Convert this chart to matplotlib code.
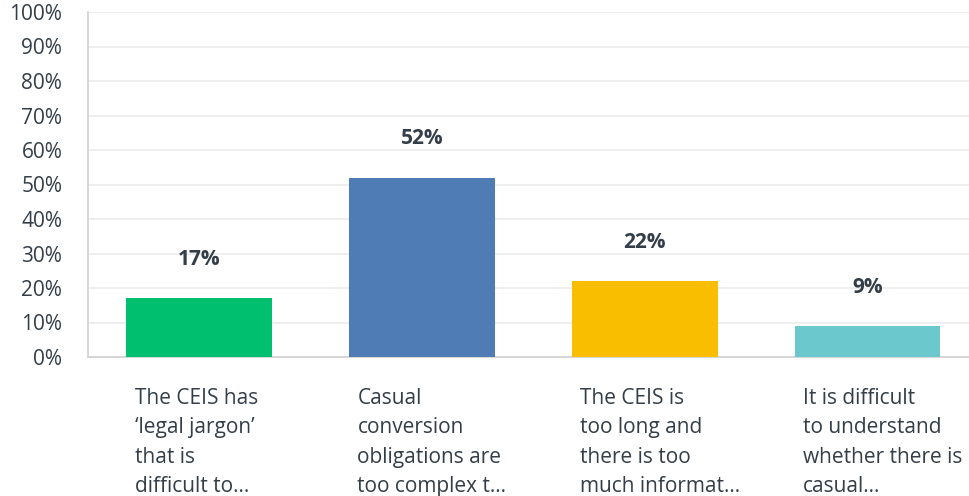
import matplotlib.pyplot as plt
from matplotlib.ticker import PercentFormatter

# Data
categories = [
    "The CEIS has\n\u2018legal jargon\u2019\nthat is\ndifficult to...",
    "Casual\nconversion\nobligations are\ntoo complex t...",
    "The CEIS is\ntoo long and\nthere is too\nmuch informat...",
    "It is difficult\nto understand\nwhether there is\ncasual...",
]
values = [17, 52, 22, 9]
colors = ["#00bf6f", "#507cb6", "#f9be00", "#6bc8cd"]

plt.rcParams["font.family"] = ["Open Sans", "DejaVu Sans"]
text_color = "#333e48"

fig = plt.figure(figsize=(9.69, 4.96), dpi=100)
ax = fig.add_axes([88 / 969, 1 - 357 / 496, (969 - 88) / 969, (357 - 12) / 496])

x = range(len(values))
ax.bar(x, values, width=0.655, color=colors, zorder=3)

for i, v in enumerate(values):
    ax.annotate(f"{v}%", (i, v), xytext=(0, 28), textcoords="offset points",
                ha="center", va="center", fontsize=15, fontweight="bold",
                color=text_color)

for i, label in enumerate(categories):
    ax.text(i - 0.29, -0.09, label, transform=ax.get_xaxis_transform(),
            ha="left", va="top", fontsize=15, color=text_color,
            linespacing=1.52)

ax.set_xlim(-0.5, 3.456)
ax.set_ylim(0, 100)
ax.set_yticks(range(0, 101, 10))
ax.yaxis.set_major_formatter(PercentFormatter(decimals=0))
ax.set_xticks([])
ax.tick_params(axis="y", length=0, pad=18.5, labelsize=15, labelcolor=text_color)

ax.grid(axis="y", color="#ebebeb", linewidth=1.2, zorder=0)
for side in ["top", "right"]:
    ax.spines[side].set_visible(False)
ax.spines["left"].set_color("#d0d0d0")
ax.spines["bottom"].set_color("#d0d0d0")
ax.spines["left"].set_linewidth(1.2)
ax.spines["bottom"].set_linewidth(1.2)

plt.savefig("out.png", dpi=100)
